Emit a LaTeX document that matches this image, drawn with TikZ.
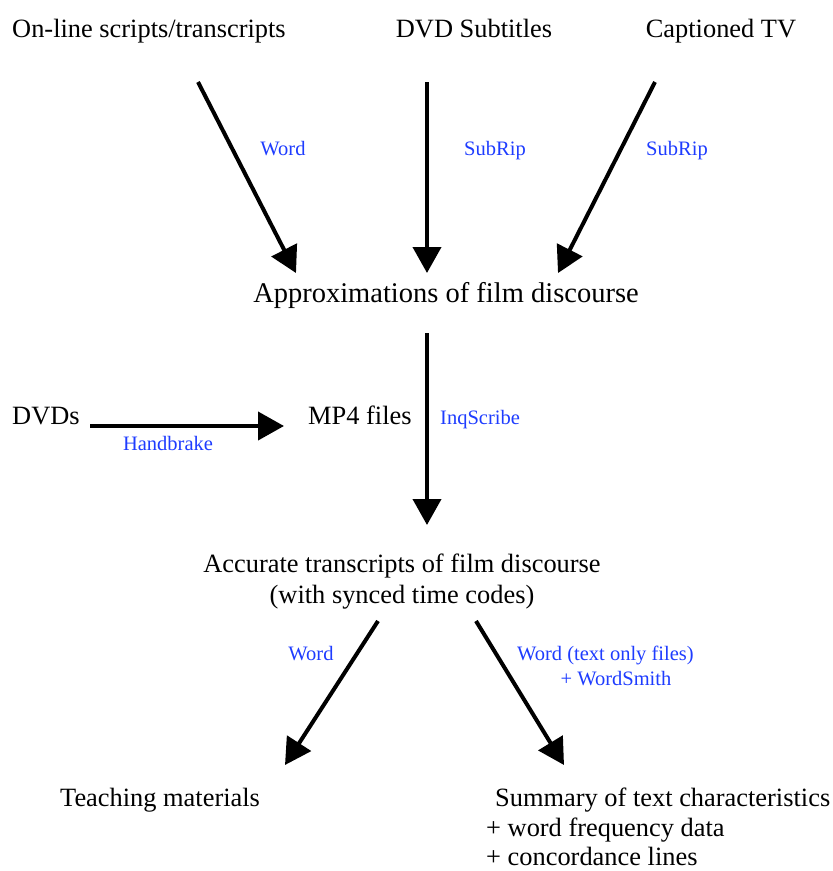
\documentclass[tikz,border=0pt]{standalone}
\usepackage{fontspec}
\setmainfont{Liberation Serif}
\usetikzlibrary{arrows.meta}
\definecolor{lblue}{RGB}{30,60,255}
\tikzset{
  main/.style={inner sep=0pt, font=\fontsize{26.4}{30}\selectfont, text=black},
  big/.style={inner sep=0pt, font=\fontsize{28.5}{32}\selectfont, text=black},
  lbl/.style={inner sep=0pt, font=\fontsize{20.5}{25}\selectfont, text=lblue},
  flow/.style={line width=4pt, -{Triangle[length=26pt,width=28pt]}}
}
\begin{document}
\begin{tikzpicture}[x=1pt,y=-1pt]
\useasboundingbox (0,0) rectangle (833,871);
% texts
\node[main, anchor=base west] (online) at (12,37) {On-line scripts/transcripts};
\node[main, anchor=base] (dvdsub) at (474,37) {DVD Subtitles};
\node[main, anchor=base] (captv) at (721,37) {Captioned TV};
\node[big, anchor=base] (approx) at (446,302) {Approximations of film discourse};
\node[main, anchor=base west] (dvds) at (12,424) {DVDs};
\node[main, anchor=base west] (mp4) at (308,424) {MP4 files};
\node[main, anchor=base] (acc1) at (402,572) {Accurate transcripts of film discourse};
\node[main, anchor=base] (acc2) at (402,603) {(with synced time codes)};
\node[main, anchor=base west] (teach) at (60,806) {Teaching materials};
\node[main, anchor=base west] (summ1) at (495,806) {Summary of text characteristics};
\node[main, anchor=base west] (summ2) at (486,836) {+ word frequency data};
\node[main, anchor=base west] (summ3) at (486,865) {+ concordance lines};
% labels
\node[lbl, anchor=base] (lword1) at (283,155) {Word};
\node[lbl, anchor=base] (lsub1) at (495,155) {SubRip};
\node[lbl, anchor=base] (lsub2) at (677,155) {SubRip};
\node[lbl, anchor=base west] (linq) at (440,424) {InqScribe};
\node[lbl, anchor=base] (lhand) at (168,450) {Handbrake};
\node[lbl, anchor=base] (lword2) at (311,660) {Word};
\node[lbl, anchor=base west] (lword3) at (517,660) {Word (text only files)};
\node[lbl, anchor=base] (lws) at (616,685) {+ WordSmith};
% connector ends
\coordinate (s1) at (198,82);  \coordinate (t1) at (296,273);
\coordinate (s2) at (427,82);  \coordinate (t2) at (427,273);
\coordinate (s3) at (655,82);  \coordinate (t3) at (558,273);
\coordinate (s4) at (427,333); \coordinate (t4) at (427,525);
\coordinate (s5) at (90,426);  \coordinate (t5) at (284,426);
\coordinate (s6) at (378,621); \coordinate (t6) at (285,765);
\coordinate (s7) at (476,621); \coordinate (t7) at (564,765);
% connectors
\draw[flow] (s1) -- (t1);
\draw[flow] (s2) -- (t2);
\draw[flow] (s3) -- (t3);
\draw[flow] (s4) -- (t4);
\draw[flow] (s5) -- (t5);
\draw[flow] (s6) -- (t6);
\draw[flow] (s7) -- (t7);
\end{tikzpicture}
\end{document}
